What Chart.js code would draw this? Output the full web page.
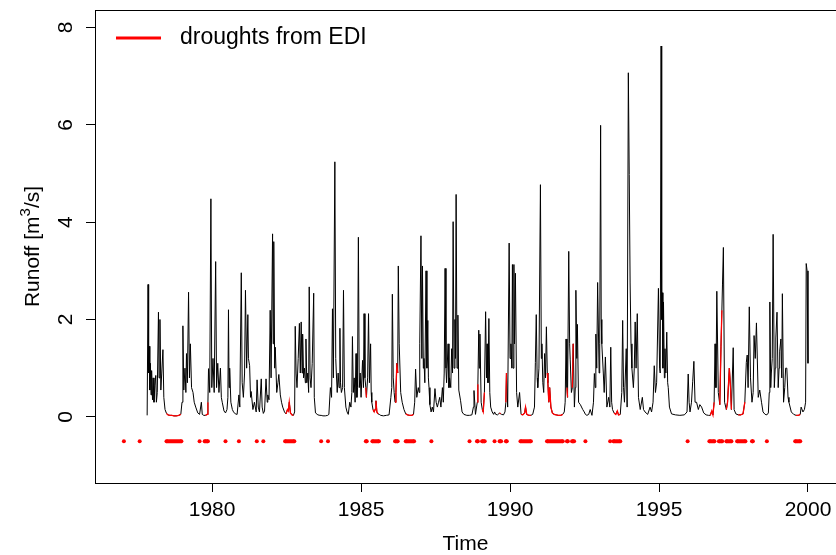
<!DOCTYPE html>
<html>
<head>
<meta charset="utf-8">
<title>Runoff and EDI droughts</title>
<script src="https://cdn.jsdelivr.net/npm/chart.js@4.4.1/dist/chart.umd.min.js"></script>
<style>
  html, body { margin: 0; padding: 0; background: #fff; overflow: hidden; }
  #wrap { width: 840px; height: 555px; }
</style>
</head>
<body>
<div id="wrap"><canvas id="runoffChart" width="840" height="555"></canvas></div>
<script>
// ---- data ----
// daily runoff, sampled as [decimal year, m3/s]
var runoff = [
  [1977.82,0.03],[1977.85,2.72],[1977.87,0.9],[1977.89,1.45],[1977.91,0.55],[1977.93,1.1],[1977.95,0.45],[1977.97,0.95],
  [1978.00,0.35],[1978.02,0.8],[1978.05,0.3],[1978.08,0.65],[1978.11,0.85],[1978.13,0.3],[1978.16,0.5],[1978.20,2.15],
  [1978.22,0.8],[1978.25,2.0],[1978.28,0.55],[1978.31,0.9],[1978.35,1.38],[1978.38,0.4],[1978.42,0.15],[1978.47,0.07],
  [1978.52,0.04],[1978.58,0.03],[1978.65,0.03],[1978.72,0.02],[1978.80,0.02],[1978.88,0.03],[1978.95,0.05],
  [1978.99,0.3],[1979.02,1.87],[1979.05,0.55],[1979.09,1.0],[1979.12,0.5],[1979.14,1.3],[1979.17,0.7],[1979.21,2.56],
  [1979.24,0.8],[1979.27,1.5],[1979.31,0.6],[1979.36,0.5],[1979.40,0.3],[1979.45,0.2],[1979.52,0.08],[1979.58,0.05],
  [1979.64,0.3],[1979.67,0.05],[1979.72,0.03],[1979.78,0.03],[1979.83,0.05],
  [1979.86,0.3],[1979.88,0.99],[1979.92,0.5],[1979.96,4.48],[1979.99,0.6],[1980.03,1.2],[1980.07,0.5],[1980.12,3.19],
  [1980.15,0.6],[1980.19,1.1],[1980.23,0.5],[1980.28,1.0],[1980.31,0.4],[1980.34,0.3],[1980.40,0.12],[1980.45,0.08],
  [1980.50,0.15],[1980.53,0.4],[1980.55,2.2],[1980.57,0.6],[1980.59,1.0],[1980.63,0.3],[1980.68,0.15],[1980.72,0.1],
  [1980.78,0.06],[1980.84,0.05],[1980.90,0.45],[1980.93,0.2],[1980.98,2.96],[1981.01,0.7],[1981.05,0.4],[1981.09,0.9],
  [1981.12,2.6],[1981.16,1.0],[1981.20,2.1],[1981.22,1.2],[1981.26,1.05],[1981.29,0.4],[1981.31,0.52],[1981.37,0.15],
  [1981.42,0.3],[1981.48,0.1],[1981.51,0.76],[1981.55,0.2],[1981.59,0.1],[1981.65,0.78],[1981.68,0.2],[1981.72,0.07],
  [1981.76,0.12],[1981.81,0.78],[1981.85,0.3],[1981.87,0.45],[1981.91,0.35],[1981.95,2.19],[1981.98,0.8],[1982.03,3.76],
  [1982.05,1.5],[1982.07,3.6],[1982.10,1.0],[1982.12,1.43],[1982.17,0.5],[1982.21,0.7],[1982.24,0.87],[1982.29,0.45],
  [1982.33,0.3],[1982.37,0.2],[1982.43,0.1],[1982.48,0.06],[1982.53,0.15],[1982.56,0.12],[1982.59,0.3],[1982.63,0.08],
  [1982.68,0.04],[1982.73,0.03],[1982.77,0.1],
  [1982.79,1.86],[1982.82,0.9],[1982.85,0.6],[1982.89,1.2],[1982.93,1.92],[1982.96,0.9],[1982.99,1.95],[1983.02,0.9],
  [1983.04,1.7],[1983.07,0.8],[1983.10,1.0],[1983.13,0.7],[1983.15,1.6],[1983.18,0.7],[1983.21,0.9],[1983.24,0.5],
  [1983.26,2.67],[1983.29,0.8],[1983.32,0.6],[1983.36,1.1],[1983.41,2.54],[1983.43,0.4],[1983.47,0.08],[1983.55,0.04],
  [1983.62,0.03],[1983.66,0.03],[1983.72,0.02],[1983.80,0.02],[1983.88,0.03],[1983.92,0.05],
  [1983.97,0.6],[1984.01,0.4],[1984.04,2.22],[1984.07,0.8],[1984.12,5.24],[1984.15,1.2],[1984.17,0.9],[1984.20,0.5],
  [1984.23,0.9],[1984.26,0.6],[1984.29,1.82],[1984.31,0.7],[1984.34,0.5],[1984.38,0.6],[1984.41,2.6],[1984.44,0.6],
  [1984.49,0.2],[1984.53,0.1],[1984.57,0.05],[1984.62,0.3],[1984.66,0.2],[1984.69,0.5],[1984.71,1.65],[1984.74,0.5],
  [1984.77,0.8],[1984.80,0.3],[1984.83,1.3],[1984.86,0.4],[1984.88,0.6],[1984.91,3.69],[1984.94,0.6],[1984.97,0.9],
  [1985.00,0.4],[1985.05,1.16],[1985.08,0.6],[1985.10,2.12],[1985.13,0.8],[1985.16,0.6],[1985.18,0.4],[1985.22,0.8],
  [1985.25,2.12],[1985.28,0.7],[1985.32,1.5],[1985.34,0.5],[1985.36,0.3],[1985.40,0.15],[1985.44,0.1],[1985.47,0.15],
  [1985.50,0.33],[1985.53,0.1],[1985.57,0.06],[1985.61,0.05],[1985.66,0.03],[1985.75,0.02],[1985.85,0.03],[1985.94,0.04],
  [1986.00,0.4],[1986.03,0.6],[1986.05,2.52],[1986.08,0.8],[1986.11,0.5],[1986.14,0.3],[1986.17,0.5],[1986.20,1.1],
  [1986.23,0.9],[1986.25,3.1],[1986.28,1.5],[1986.33,0.5],[1986.38,0.3],[1986.44,0.15],[1986.50,0.06],[1986.56,0.04],
  [1986.63,0.03],[1986.70,0.03],[1986.76,0.05],[1986.80,0.3],
  [1986.83,0.98],[1986.87,0.4],[1986.92,0.6],[1986.95,0.5],[1986.97,1.5],[1987.01,3.72],[1987.04,1.2],[1987.06,3.1],
  [1987.09,1.0],[1987.11,1.2],[1987.14,0.7],[1987.18,3.0],[1987.21,1.0],[1987.24,1.98],[1987.26,0.8],[1987.28,0.6],
  [1987.31,0.25],[1987.35,0.1],[1987.39,0.2],[1987.43,0.1],[1987.48,0.58],[1987.52,0.3],[1987.56,0.2],[1987.60,0.3],
  [1987.64,0.4],[1987.68,0.2],[1987.73,0.6],[1987.76,0.3],[1987.79,0.9],[1987.82,3.05],[1987.85,1.0],[1987.87,0.7],
  [1987.92,1.5],[1987.95,0.6],[1987.97,0.8],[1988.01,0.6],[1988.04,1.4],[1988.07,0.9],[1988.09,4.01],[1988.12,1.0],
  [1988.15,2.0],[1988.17,1.2],[1988.19,4.57],[1988.22,1.0],[1988.25,2.09],[1988.28,0.55],[1988.34,0.33],[1988.39,0.1],
  [1988.45,0.05],[1988.55,0.03],[1988.64,0.03],[1988.72,0.04],[1988.77,0.2],[1988.79,0.54],[1988.84,0.05],[1988.90,0.3],
  [1988.92,0.67],[1988.95,1.78],[1988.97,1.0],[1988.99,1.7],[1989.03,0.3],[1989.07,0.15],[1989.10,0.1],[1989.14,0.5],
  [1989.18,2.16],[1989.21,0.8],[1989.23,1.5],[1989.26,0.7],[1989.29,2.02],[1989.32,0.5],[1989.35,0.2],[1989.40,0.1],
  [1989.45,0.05],[1989.48,0.1],[1989.52,0.05],[1989.58,0.04],[1989.65,0.08],[1989.68,0.06],[1989.72,0.05],[1989.78,0.04],
  [1989.83,0.1],[1989.86,0.3],[1989.88,0.9],[1989.92,0.2],
  [1989.97,3.57],[1990.00,1.2],[1990.03,1.5],[1990.06,1.0],[1990.08,3.13],[1990.10,1.0],[1990.13,3.13],[1990.15,1.5],
  [1990.18,2.95],[1990.22,0.5],[1990.26,0.2],[1990.32,0.5],[1990.37,0.05],[1990.43,0.04],[1990.49,0.08],[1990.52,0.2],
  [1990.56,0.05],[1990.63,0.03],[1990.70,0.03],[1990.76,0.05],[1990.82,0.2],[1990.85,1.12],[1990.88,2.1],[1990.91,0.8],
  [1990.93,0.6],[1990.97,1.0],[1991.02,4.77],[1991.05,1.2],[1991.07,1.5],[1991.10,0.7],[1991.13,0.5],[1991.16,1.3],
  [1991.19,0.8],[1991.22,1.85],[1991.25,0.9],[1991.27,0.7],[1991.30,0.3],[1991.33,0.6],[1991.37,0.2],[1991.42,0.08],
  [1991.48,0.05],[1991.55,0.04],[1991.62,0.03],[1991.70,0.03],[1991.77,0.05],[1991.82,0.1],[1991.85,0.3],[1991.88,1.6],
  [1991.91,0.6],[1991.93,0.4],[1991.97,3.4],[1992.00,1.5],[1992.02,1.17],[1992.06,0.5],[1992.09,0.6],[1992.12,1.5],
  [1992.16,0.2],[1992.19,0.6],[1992.21,2.6],[1992.24,1.2],[1992.26,1.9],[1992.30,0.3],[1992.36,0.25],[1992.44,0.15],
  [1992.49,0.1],[1992.53,0.05],[1992.58,0.03],[1992.64,0.05],[1992.69,0.15],[1992.75,0.03],[1992.80,0.3],
  [1992.83,0.89],[1992.86,0.6],[1992.88,1.7],[1992.91,1.0],[1992.94,2.76],[1992.99,0.9],[1993.01,1.5],[1993.04,5.99],
  [1993.06,2.0],[1993.08,1.5],[1993.13,0.9],[1993.16,0.5],[1993.20,1.23],[1993.25,0.2],[1993.31,0.4],[1993.35,0.2],
  [1993.38,1.43],[1993.41,0.3],[1993.44,0.15],[1993.49,0.08],[1993.55,0.05],[1993.60,0.12],[1993.64,0.04],[1993.70,0.05],
  [1993.75,0.5],[1993.78,1.98],[1993.81,0.6],[1993.84,0.3],[1993.90,1.4],[1993.93,0.2],[1993.97,7.07],[1994.00,4.98],
  [1994.03,2.75],[1994.06,1.5],[1994.09,1.0],[1994.14,0.6],[1994.17,1.0],[1994.20,1.95],[1994.23,1.0],[1994.27,2.12],
  [1994.31,0.4],[1994.37,0.15],[1994.44,0.4],[1994.48,0.15],[1994.53,0.1],[1994.62,0.05],[1994.70,0.2],[1994.75,0.1],
  [1994.80,0.3],[1994.84,1.05],[1994.88,0.5],[1994.92,0.7],[1994.98,2.64],[1995.02,1.0],[1995.04,0.9],[1995.07,7.62],
  [1995.09,2.0],[1995.11,2.55],[1995.13,1.0],[1995.15,2.36],[1995.18,0.8],[1995.20,1.4],[1995.23,0.9],[1995.26,1.74],
  [1995.29,0.7],[1995.31,0.6],[1995.35,0.2],[1995.42,0.06],[1995.55,0.04],[1995.70,0.03],[1995.85,0.04],[1995.94,0.1],
  [1995.98,0.88],[1996.01,0.3],[1996.04,0.1],[1996.09,0.3],[1996.13,0.72],[1996.17,1.14],[1996.21,0.3],[1996.26,0.3],
  [1996.32,0.15],[1996.37,0.25],[1996.43,0.2],[1996.50,0.08],[1996.58,0.04],[1996.66,0.03],[1996.72,0.03],[1996.77,0.12],
  [1996.81,0.04],[1996.85,0.3],[1996.88,1.5],[1996.91,0.6],[1996.94,2.58],[1996.99,0.5],[1997.04,0.25],[1997.08,1.45],
  [1997.11,2.19],[1997.13,2.71],[1997.16,3.48],[1997.20,0.3],[1997.26,0.15],[1997.30,0.3],[1997.36,1.0],[1997.40,0.6],
  [1997.43,0.15],[1997.49,1.42],[1997.52,0.15],[1997.58,0.06],[1997.66,0.04],[1997.74,0.04],[1997.82,0.06],[1997.88,0.3],
  [1997.93,1.12],[1997.96,1.27],[1997.99,0.6],[1998.03,2.26],[1998.07,0.8],[1998.12,0.3],[1998.16,0.5],[1998.19,1.67],
  [1998.23,1.2],[1998.27,1.93],[1998.33,0.4],[1998.38,0.55],[1998.44,0.3],[1998.49,0.1],[1998.56,0.05],[1998.62,0.04],
  [1998.67,0.08],[1998.70,0.5],[1998.72,2.36],[1998.75,0.6],[1998.77,0.9],[1998.80,1.2],[1998.83,3.75],[1998.87,0.6],
  [1998.90,1.0],[1998.92,1.62],[1998.96,2.15],[1999.00,0.6],[1999.03,1.0],[1999.05,1.35],[1999.09,1.6],[1999.12,0.8],
  [1999.14,2.53],[1999.18,0.3],[1999.22,0.6],[1999.25,1.0],[1999.29,1.0],[1999.33,0.4],[1999.36,0.3],[1999.44,0.1],
  [1999.52,0.05],[1999.60,0.03],[1999.68,0.03],[1999.74,0.05],[1999.77,0.2],[1999.83,0.1],[1999.88,0.15],[1999.92,0.3],
  [1999.94,3.15],[1999.97,3.0],[2000.00,1.1]
];

// drought periods from EDI, [start, end] in decimal years
var droughtPeriods = [
  [1977.04,1977.04],[1977.57,1977.57],[1978.47,1978.97],[1979.58,1979.58],[1979.75,1979.86],
  [1980.45,1980.45],[1980.90,1980.90],[1981.50,1981.50],[1981.72,1981.72],[1982.45,1982.76],
  [1983.66,1983.66],[1983.89,1983.89],[1985.16,1985.19],[1985.38,1985.60],[1986.14,1986.23],
  [1986.50,1986.78],[1987.36,1987.36],[1988.64,1988.64],[1988.89,1988.92],[1989.06,1989.15],
  [1989.48,1989.48],[1989.65,1989.70],[1989.86,1989.89],[1990.35,1990.70],[1991.24,1991.77],
  [1991.91,1991.94],[1992.08,1992.15],[1992.53,1992.53],[1993.36,1993.36],[1993.47,1993.70],
  [1995.96,1995.96],[1996.69,1996.86],[1997.01,1997.12],[1997.26,1997.43],[1997.62,1997.90],
  [1998.12,1998.15],[1998.62,1998.62],[1999.57,1999.74]
];
var droughtLevel = -0.5;

var xTicks = [1980, 1985, 1990, 1995, 2000];
var yTicks = [0, 2, 4, 6, 8];
var xRange = [1976.07, 2000.94];
var yRange = [-1.36, 8.36];

var legendLabel = 'droughts from EDI';
var xTitle = 'Time';
var yTitle = ['Runoff [m', '3', '/s]'];

var FONT = '"Liberation Sans", Arial, Helvetica, sans-serif';

// ---- build datasets ----
var runoffData = runoff.map(p => ({ x: p[0], y: p[1] }));

var droughtLine = [];
var droughtDots = [];
droughtPeriods.forEach(per => {
    runoff.forEach(p => {
        if (p[0] >= per[0] - 0.005 && p[0] <= per[1] + 0.005) {
            droughtLine.push({ x: p[0], y: p[1] });
        }
    });
    droughtLine.push({ x: per[1] + 0.001, y: null });

    droughtDots.push({ x: per[0], y: droughtLevel });
    if (per[1] > per[0]) droughtDots.push({ x: per[1], y: droughtLevel });
    droughtDots.push({ x: per[1] + 0.001, y: null });
});

// ---- box, y labels, legend ----
var frame = {
    id: 'frame',
    afterDraw(chart) {
        var ctx = chart.ctx;
        var a = chart.chartArea;
        var ys = chart.scales.y;
        ctx.save();

        ctx.strokeStyle = '#000';
        ctx.lineWidth = 1;
        ctx.strokeRect(Math.round(a.left) + 0.5, Math.round(a.top) + 0.5,
                       Math.round(a.right - a.left), Math.round(a.bottom - a.top));

        // y tick labels, turned like R does
        ctx.fillStyle = '#000';
        ctx.font = '21px ' + FONT;
        ctx.textAlign = 'center';
        ctx.textBaseline = 'middle';
        yTicks.forEach(t => {
            ctx.save();
            ctx.translate(66, ys.getPixelForValue(t));
            ctx.rotate(-Math.PI / 2);
            ctx.fillText(String(t), 0, 0);
            ctx.restore();
        });

        // y title with superscript
        ctx.save();
        ctx.translate(33, (a.top + a.bottom) / 2);
        ctx.rotate(-Math.PI / 2);
        ctx.textAlign = 'left';
        ctx.font = '21px ' + FONT;
        var w1 = ctx.measureText(yTitle[0]).width;
        var w3 = ctx.measureText(yTitle[2]).width;
        ctx.font = '15px ' + FONT;
        var w2 = ctx.measureText(yTitle[1]).width;
        var x0 = -(w1 + w2 + w3) / 2;
        ctx.font = '21px ' + FONT;
        ctx.fillText(yTitle[0], x0, 0);
        ctx.font = '15px ' + FONT;
        ctx.fillText(yTitle[1], x0 + w1, -7);
        ctx.font = '21px ' + FONT;
        ctx.fillText(yTitle[2], x0 + w1 + w2, 0);
        ctx.restore();

        // legend
        ctx.strokeStyle = '#ff0000';
        ctx.lineWidth = 3;
        ctx.beginPath();
        ctx.moveTo(116, 38);
        ctx.lineTo(161, 38);
        ctx.stroke();
        ctx.font = '23px ' + FONT;
        ctx.textAlign = 'left';
        ctx.fillText(legendLabel, 180, 38);

        ctx.restore();
    }
};

var ctxR = document.getElementById('runoffChart').getContext('2d');
var runoffChart = new Chart(ctxR, {
    type: 'line',
    data: {
        datasets: [
            {
                label: 'runoff',
                data: runoffData,
                borderColor: '#000',
                borderWidth: 1,
                pointRadius: 0,
                tension: 0,
                order: 3
            },
            {
                label: legendLabel,
                data: droughtLine,
                borderColor: '#ff0000',
                borderWidth: 1.3,
                pointRadius: 0,
                tension: 0,
                spanGaps: false,
                order: 2
            },
            {
                label: 'drought days',
                data: droughtDots,
                borderColor: '#ff0000',
                backgroundColor: '#ff0000',
                borderWidth: 4,
                pointRadius: 2,
                pointBorderWidth: 0,
                tension: 0,
                spanGaps: false,
                order: 1
            }
        ]
    },
    options: {
        responsive: false,
        animation: false,
        devicePixelRatio: 1,
        events: [],
        layout: { padding: { left: 0, top: 10, right: 2, bottom: 0 } },
        plugins: { legend: { display: false }, tooltip: { enabled: false } },
        scales: {
            x: {
                type: 'linear',
                min: xRange[0],
                max: xRange[1],
                afterBuildTicks: axis => { axis.ticks = xTicks.map(v => ({ value: v })); },
                afterFit: axis => { axis.height = 72; },
                border: { display: false },
                grid: { drawOnChartArea: false, drawTicks: true, tickLength: 9, color: '#000', lineWidth: 1 },
                ticks: {
                    color: '#000',
                    font: { family: FONT, size: 21 },
                    padding: 6,
                    maxRotation: 0,
                    autoSkip: false,
                    callback: v => String(v)
                },
                title: {
                    display: true,
                    text: xTitle,
                    color: '#000',
                    font: { family: FONT, size: 21, lineHeight: 1 },
                    padding: 0
                }
            },
            y: {
                type: 'linear',
                min: yRange[0],
                max: yRange[1],
                afterBuildTicks: axis => { axis.ticks = yTicks.map(v => ({ value: v })); },
                afterFit: axis => { axis.width = 95; },
                border: { display: false },
                grid: { drawOnChartArea: false, drawTicks: true, tickLength: 9, color: '#000', lineWidth: 1 },
                ticks: { display: false }
            }
        }
    },
    plugins: [frame]
});
</script>
</body>
</html>
